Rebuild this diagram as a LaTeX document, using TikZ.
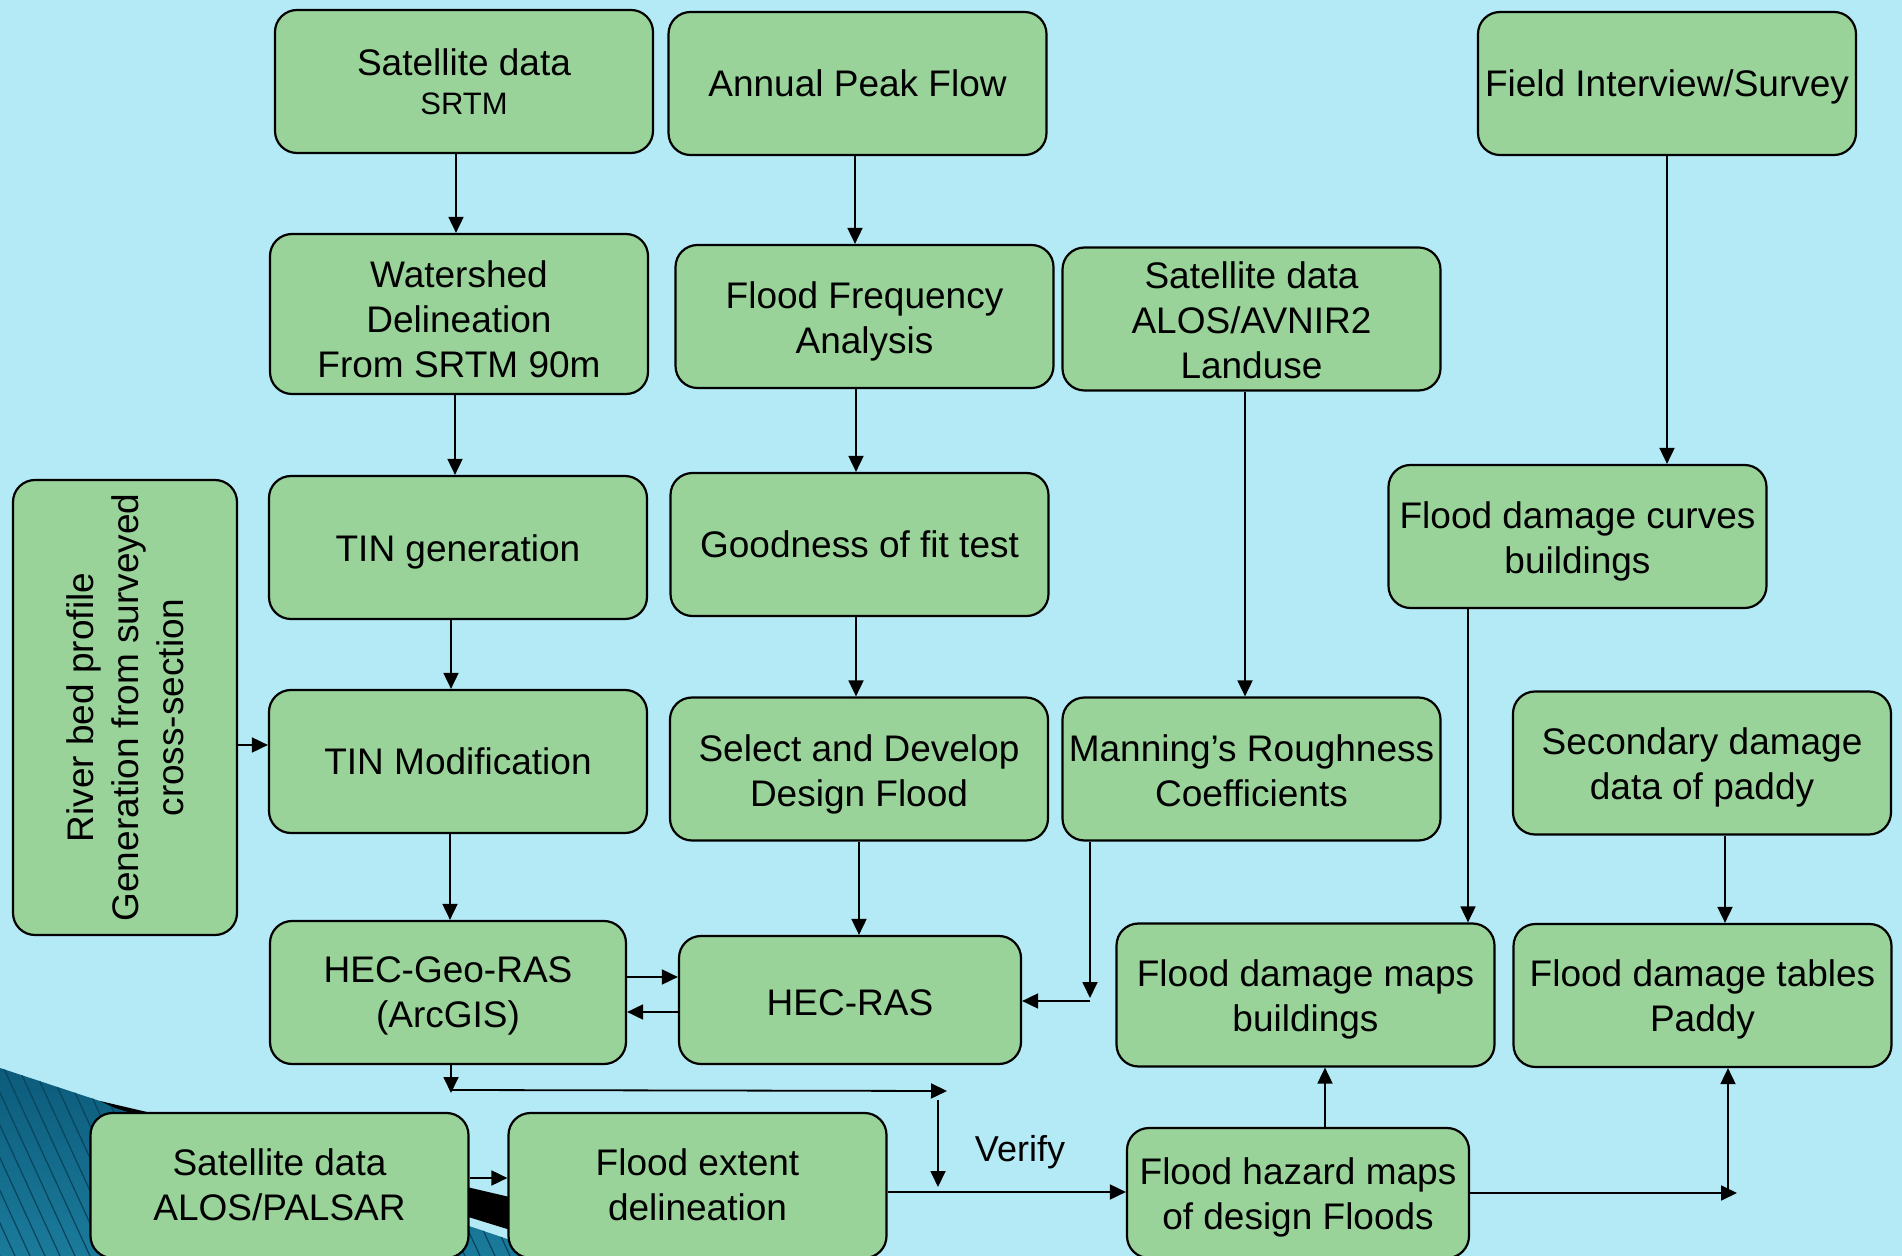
\documentclass[tikz,border=0pt]{standalone}
\usepackage{fontspec}
\setmainfont{Liberation Sans}
\usetikzlibrary{arrows.meta}
\definecolor{bg}{RGB}{180,234,245}
\definecolor{boxg}{RGB}{153,211,153}
\definecolor{tealA}{RGB}{12,90,122}
\definecolor{tealB}{RGB}{38,148,180}
\definecolor{stripec}{RGB}{8,68,95}
\newcommand{\mlines}[2][2.7pt]{\raisebox{-#1}[\height][\depth]{\setlength{\tabcolsep}{0pt}\begin{tabular}{c}#2\end{tabular}}}
\begin{document}
\begin{tikzpicture}[x=0.5pt,y=-0.5pt,
  box/.style={draw=black, line width=1.1pt, fill=boxg, rounded corners=11pt,
    align=center, inner sep=0pt, minimum width=189pt, minimum height=71.5pt,
    font=\fontsize{18.5}{22.5}\selectfont},
  arr/.style={line width=0.9pt, -{Triangle[length=8pt,width=7.5pt]}},
  lbl/.style={inner sep=0pt, font=\fontsize{18}{22}\selectfont}
]
\clip (0,0) rectangle (1902,1256);
\fill[bg] (0,0) rectangle (1902,1256);
% decoration bottom left
\begin{scope}
  \clip (0,1068) -- (115,1106) -- (1000,1406) -- (0,1406) -- cycle;
  \shade[top color=tealA, bottom color=tealB] (0,1060) rectangle (1000,1406);
  \foreach \i in {-8,...,70}
    \draw[stripec, line width=0.6pt] (\i*15,1060) -- (\i*15+90,1256);
\end{scope}
\fill[black] (100,1101) -- (1000,1312) -- (1000,1381) -- (115,1108) -- cycle;

% nodes
\node[box] (sat1) at (464,81.5) {Satellite data\\[-3pt]{\fontsize{15.5}{19}\selectfont SRTM}};
\node[box] (apf) at (857.5,83.5) {Annual Peak Flow};
\node[box] (field) at (1667,83.5) {\raisebox{-1.8pt}[\height][\depth]{Field Interview/Survey}};
\node[box, minimum height=80pt] (ws) at (459,314) {\mlines[4.9pt]{Watershed\\Delineation\\From SRTM 90m}};
\node[box] (ffa) at (864.5,316.5) {\mlines[3pt]{Flood Frequency\\Analysis}};
\node[box] (sat2) at (1251.5,319) {\mlines[2.6pt]{Satellite data\\ALOS/AVNIR2\\Landuse}};
\node[box, rotate=90, minimum width=227.5pt, minimum height=112pt] (river) at (125,707.5)
  {\mlines[2.1pt]{River bed profile\\Generation from surveyed\\cross-section}};
\node[box] (ting) at (458,547.5) {\raisebox{-2.2pt}[\height][\depth]{TIN generation}};
\node[box] (gof) at (859.5,544.5) {Goodness of fit test};
\node[box] (fdc) at (1577.5,536.5) {\mlines[3pt]{Flood damage curves\\buildings}};
\node[box] (tinm) at (458,761.5) {TIN Modification};
\node[box] (sel) at (859,769) {\mlines[3pt]{Select and Develop\\Design Flood}};
\node[box] (man) at (1251.5,769) {\mlines[3pt]{Manning’s Roughness\\Coefficients}};
\node[box] (sec) at (1702,763) {\mlines[2.4pt]{Secondary damage\\data of paddy}};
\node[box, minimum width=178pt] (geo) at (448,992.5) {\mlines[1.8pt]{HEC-Geo-RAS\\(ArcGIS)}};
\node[box, minimum width=171pt, minimum height=64pt] (ras) at (850,1000) {\raisebox{-1.2pt}[\height][\depth]{HEC-RAS}};
\node[box] (fdm) at (1305.5,995) {\mlines[2.4pt]{Flood damage maps\\buildings}};
\node[box] (fdt) at (1702.5,995.5) {\mlines[2.4pt]{Flood damage tables\\Paddy}};
\node[box, minimum height=72.5pt] (palsar) at (279.5,1185.5) {\mlines[1.8pt]{Satellite data\\ALOS/PALSAR}};
\node[box, minimum height=72.5pt] (fed) at (697.5,1185.5) {\mlines[1.8pt]{Flood extent\\delineation}};
\node[box, minimum width=171pt, minimum height=65pt] (fhm) at (1298,1193) {\mlines[2.4pt]{Flood hazard maps\\of design Floods}};
\node[lbl] (verify) at (1020,1152) {Verify};

% free ends
\coordinate (c1) at (1090,998);
\coordinate (c2) at (1090,1001);
\coordinate (c3) at (451,1093);
\coordinate (c4) at (451,1090);
\coordinate (c5) at (947,1091);
\coordinate (c6) at (938,1100);
\coordinate (c7) at (938,1187);
\coordinate (c8) at (1737,1193);
\coordinate (c9) at (1728,1193);

% connectors
\draw[arr] (sat1.south -| 456,0) -- (ws.north -| 456,0);
\draw[arr] (apf.south -| 855,0) -- (ffa.north -| 855,0);
\draw[arr] (field.south -| 1667,0) -- (fdc.north -| 1667,0);
\draw[arr] (ws.south -| 455,0) -- (ting.north -| 455,0);
\draw[arr] (ffa.south -| 856,0) -- (gof.north -| 856,0);
\draw[arr] (sat2.south -| 1245,0) -- (man.north -| 1245,0);
\draw[arr] (ting.south -| 451,0) -- (tinm.north -| 451,0);
\draw[arr] (gof.south -| 856,0) -- (sel.north -| 856,0);
\draw[arr] (river.south |- 0,745) -- (tinm.west |- 0,745);
\draw[arr] (tinm.south -| 450,0) -- (geo.north -| 450,0);
\draw[arr] (sel.south -| 859,0) -- (ras.north -| 859,0);
\draw[arr] (man.south -| 1090,0) -- (c1);
\draw[arr] (c2) -- (c2 -| ras.east);
\draw[arr] (fdc.south -| 1468,0) -- (fdm.north -| 1468,0);
\draw[arr] (sec.south -| 1725,0) -- (fdt.north -| 1725,0);
\draw[arr] (geo.east |- 0,977) -- (ras.west |- 0,977);
\draw[arr] (ras.west |- 0,1012) -- (geo.east |- 0,1012);
\draw[arr] (geo.south -| 451,0) -- (c3);
\draw[arr] (c4) -- (c5);
\draw[arr] (c6) -- (c7);
\draw[arr] (fed.east |- 0,1192) -- (fhm.west |- 0,1192);
\draw[arr] (palsar.east |- 0,1178) -- (fed.west |- 0,1178);
\draw[arr] (fhm.north -| 1325,0) -- (fdm.south -| 1325,0);
\draw[arr] (fhm.east |- 0,1193) -- (c8);
\draw[arr] (c9) -- (fdt.south -| 1728,0);
\end{tikzpicture}
\end{document}
